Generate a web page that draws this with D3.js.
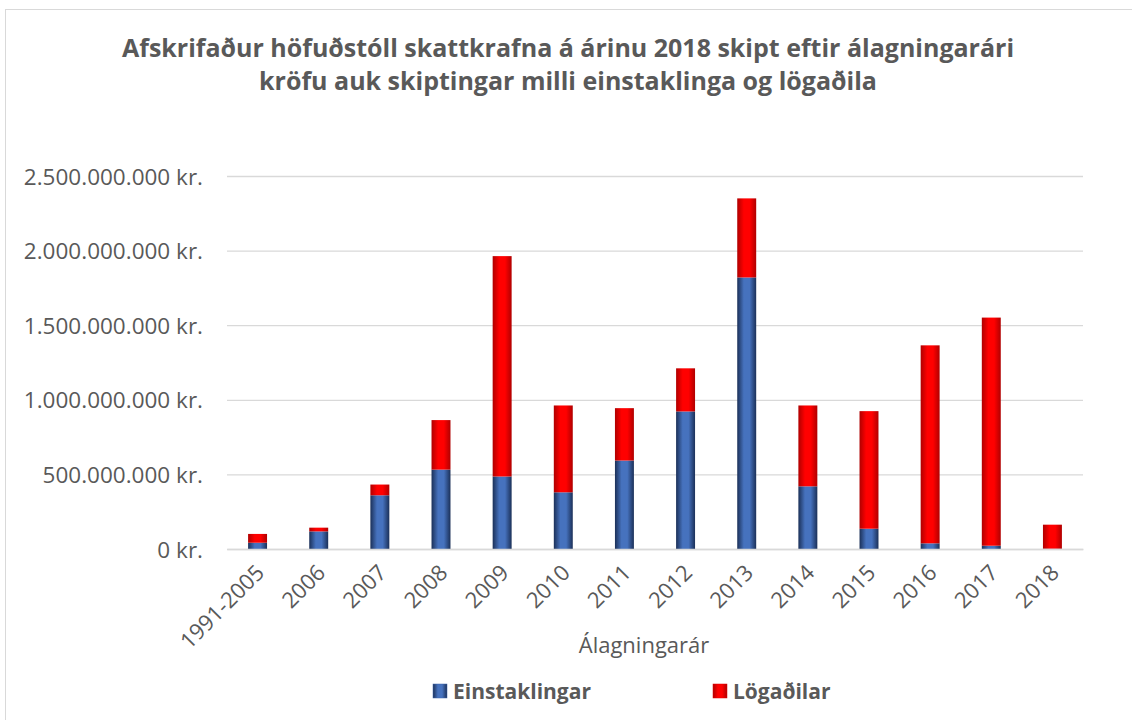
<!DOCTYPE html>
<html>
<head>
<meta charset="utf-8">
<script src="https://cdn.jsdelivr.net/npm/d3@7"></script>
<style>
body { margin: 0; background: #fff; }
svg { display: block; font-family: "Open Sans", sans-serif; }
</style>
</head>
<body>
<div id="main"></div>
<script>
var years = ["1991-2005", "2006", "2007", "2008", "2009", "2010", "2011", "2012", "2013", "2014", "2015", "2016", "2017", "2018"];
var einstaklingar = [42e6, 118e6, 360e6, 532e6, 486e6, 380e6, 593e6, 922e6, 1820e6, 420e6, 136e6, 38e6, 22e6, 2e6];
var logadilar = [59e6, 25e6, 72e6, 332e6, 1477e6, 582e6, 351e6, 289e6, 530e6, 542e6, 788e6, 1327e6, 1529e6, 161e6];
var yTicks = [0, 500e6, 1000e6, 1500e6, 2000e6, 2500e6];
var seriesNames = ["Einstaklingar", "Lögaðilar"];
var titleLines = ["Afskrifaður höfuðstóll skattkrafna á árinu 2018 skipt eftir álagningarári",
                  "kröfu auk skiptingar milli einstaklinga og lögaðila"];

var width = 1132, height = 720;
var margin = {left: 227, right: 49, top: 176, bottom: 171};
var textColor = "#595959";

var svg = d3.select("#main").append("svg")
    .attr("width", width)
    .attr("height", height);

// gradients for the bevel look
var defs = svg.append("defs");
function grad(id, edge, mid) {
    var g = defs.append("linearGradient").attr("id", id)
        .attr("x1", "0%").attr("x2", "100%").attr("y1", "0%").attr("y2", "0%");
    g.append("stop").attr("offset", "0%").attr("stop-color", edge);
    g.append("stop").attr("offset", "35%").attr("stop-color", mid);
    g.append("stop").attr("offset", "65%").attr("stop-color", mid);
    g.append("stop").attr("offset", "100%").attr("stop-color", edge);
}
grad("gBlue", "#1b3058", "#4672be");
grad("gRed", "#b00000", "#ff0000");
var fills = ["url(#gBlue)", "url(#gRed)"];
var solid = ["#3e66ad", "#e00000"];

// chart border
svg.append("rect")
    .attr("x", 5.5).attr("y", 9.5)
    .attr("width", width + 20).attr("height", height + 20)
    .attr("fill", "none").attr("stroke", "#d9d9d9");

var x = d3.scaleBand()
    .domain(years)
    .range([margin.left, width - margin.right])
    .paddingInner(0.69)
    .paddingOuter(0.345);

var y = d3.scaleLinear()
    .domain([0, 2500e6])
    .range([height - margin.bottom, margin.top]);

// gridlines + y labels
var fmt = function(v) {
    return d3.format(",")(v).replace(/,/g, ".") + " kr.";
};
var yAxis = svg.append("g")
    .attr("transform", "translate(" + margin.left + ",0)")
    .call(d3.axisLeft(y).tickValues(yTicks).tickFormat(fmt)
          .tickSize(-(width - margin.left - margin.right)).tickPadding(24))
    .attr("font-family", null);
yAxis.select(".domain").remove();
yAxis.selectAll(".tick line").attr("stroke", "#d9d9d9").attr("stroke-width", 1.3);
yAxis.selectAll(".tick text")
    .attr("fill", textColor)
    .style("font-size", "22.5px")
    .attr("dy", "0.36em");

// stacked bars
var table = years.map(function(yr, i) {
    return {year: yr, Einstaklingar: einstaklingar[i], "Lögaðilar": logadilar[i]};
});
var stacked = d3.stack().keys(seriesNames)(table);

svg.append("g").selectAll("g")
    .data(stacked)
    .join("g")
    .attr("fill", function(d, i) { return fills[i]; })
    .selectAll("rect")
    .data(function(d) { return d; })
    .join("rect")
    .attr("x", function(d) { return x(d.data.year); })
    .attr("y", function(d) { return y(d[1]); })
    .attr("width", x.bandwidth())
    .attr("height", function(d) { return Math.max(0, y(d[0]) - y(d[1])); });

// x axis
var xAxis = svg.append("g")
    .attr("transform", "translate(0," + (height - margin.bottom) + ")")
    .call(d3.axisBottom(x).tickSize(0).tickPadding(0))
    .attr("font-family", null);
xAxis.select(".domain")
    .attr("stroke", "#d9d9d9").attr("stroke-width", 1.3);
xAxis.selectAll(".tick text")
    .attr("fill", textColor)
    .style("font-size", "22px")
    .attr("text-anchor", "end")
    .attr("dy", "0")
    .attr("transform", "translate(8,25) rotate(-45)");

// axis title
svg.append("text")
    .attr("x", 644).attr("y", 653)
    .attr("text-anchor", "middle")
    .attr("fill", textColor)
    .style("font-size", "22px")
    .text("Álagningarár");

// title
svg.append("g").selectAll("text")
    .data(titleLines)
    .join("text")
    .attr("x", 568)
    .attr("y", function(d, i) { return 57 + i * 33; })
    .attr("text-anchor", "middle")
    .attr("fill", textColor)
    .style("font-size", "25px")
    .style("font-weight", "bold")
    .text(function(d) { return d; });

// legend
var legendX = [433, 713];
var lg = svg.append("g").selectAll("g")
    .data(seriesNames)
    .join("g")
    .attr("transform", function(d, i) { return "translate(" + legendX[i] + ",684)"; });
lg.append("rect")
    .attr("width", 14).attr("height", 14)
    .attr("fill", function(d, i) { return fills[i]; })
    .attr("stroke", function(d, i) { return solid[i]; })
    .attr("stroke-width", 0.5);
lg.append("text")
    .attr("x", 20).attr("y", 15)
    .attr("fill", textColor)
    .style("font-size", "21px")
    .style("font-weight", "bold")
    .text(function(d) { return d; });
</script>
</body>
</html>
